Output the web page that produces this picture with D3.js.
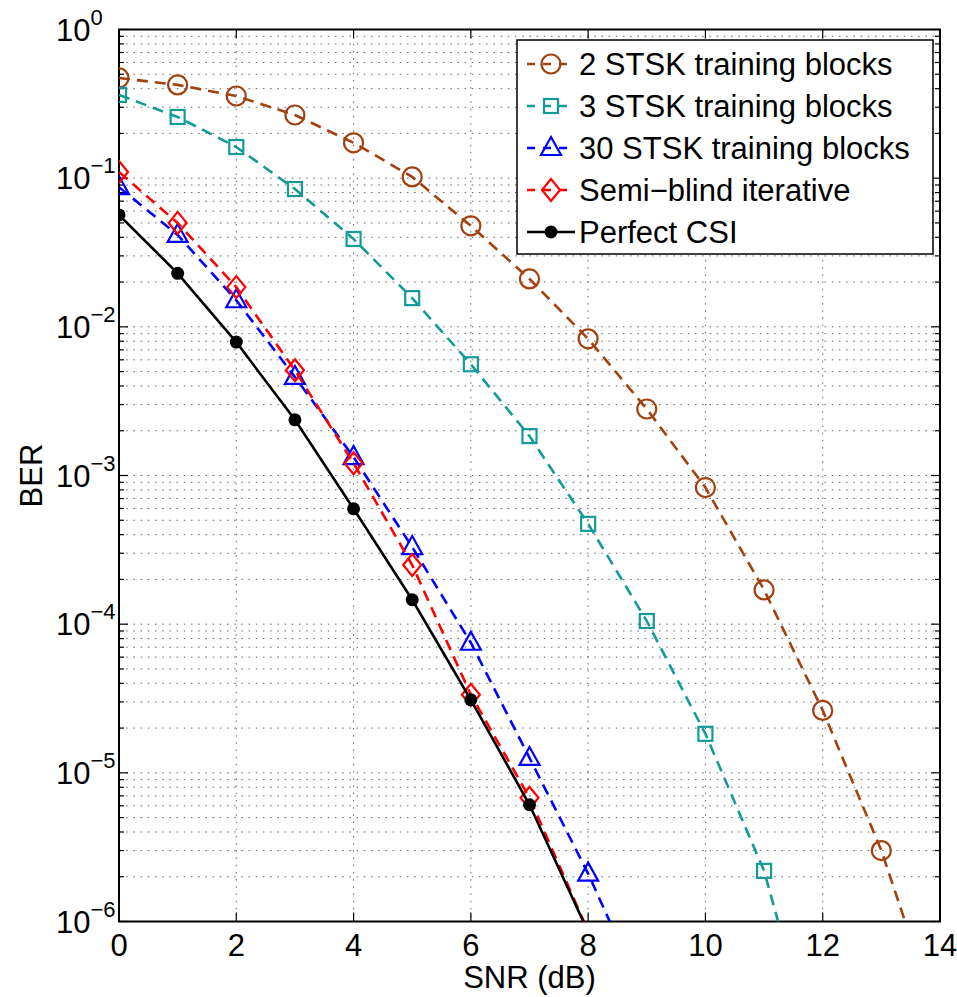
<!DOCTYPE html>
<html>
<head>
<meta charset="utf-8">
<script src="https://cdn.jsdelivr.net/npm/d3@7"></script>
<style>
  body { margin: 0; background: #fff; }
  text { font-family: "Liberation Sans", Arial, sans-serif; fill: #000; }
</style>
</head>
<body>
<div id="chart"></div>
<script>
// SNR values (dB)
const snr = [0, 1, 2, 3, 4, 5, 6, 7, 8, 9, 10, 11, 12, 13, 14];

// BER per curve (last points fall below the axis and get clipped)
const ber2Stsk = [0.472, 0.424, 0.357, 0.266, 0.173, 0.102, 0.0478, 0.021, 0.0083, 2.8e-3, 8.3e-4, 1.7e-4, 2.63e-5, 3.0e-6, 2.0e-7];
const ber3Stsk = [0.363, 0.258, 0.162, 0.0845, 0.039, 0.0156, 0.0056, 1.84e-3, 4.73e-4, 1.05e-4, 1.83e-5, 2.19e-6, 8.3e-8];
const ber30Stsk = [0.087, 0.0415, 0.0151, 0.0046, 1.33e-3, 3.3e-4, 7.5e-5, 1.26e-5, 2.1e-6, 2.8e-7];
const berSemiBlind = [0.110, 0.050, 0.0185, 0.0051, 1.21e-3, 2.5e-4, 3.35e-5, 6.8e-6, 8.6e-7];
const berPerfect = [0.0566, 0.0229, 0.0079, 0.00237, 5.97e-4, 1.46e-4, 3.1e-5, 6.1e-6, 8.5e-7];

const seriesNames = ["2 STSK training blocks", "3 STSK training blocks", "30 STSK training blocks", "Semi\u2212blind iterative", "Perfect CSI"];
const xTicks = [0, 2, 4, 6, 8, 10, 12, 14];
const yExponents = [0, -1, -2, -3, -4, -5, -6];

const W = 957, H = 997;
const margin = { top: 29.5, right: 17, bottom: 75.5, left: 119 };
const width = W - margin.left - margin.right;
const height = H - margin.top - margin.bottom;

const svg = d3.select("#chart").append("svg")
  .attr("width", W)
  .attr("height", H);

const x = d3.scaleLinear().domain([0, 14]).range([0, width]);
const y = d3.scaleLog().domain([1e-6, 1]).range([height, 0]);

const g = svg.append("g")
  .attr("transform", "translate(" + margin.left + "," + margin.top + ")");

g.append("defs").append("clipPath").attr("id", "clip")
  .append("rect").attr("width", width).attr("height", height);

// minor decade values for y grid
const yMinor = [];
for (let e = -6; e < 0; e++) {
  for (let m = 2; m <= 9; m++) yMinor.push(m * Math.pow(10, e));
}
const yMajor = yExponents.map(e => Math.pow(10, e));

// grid (dotted)
const grid = g.append("g").attr("stroke", "#666").attr("stroke-width", 1)
  .attr("stroke-dasharray", "1.5,5.7");
grid.selectAll(".gy").data(yMajor.concat(yMinor)).enter().append("line")
  .attr("x1", 0).attr("x2", width)
  .attr("y1", d => y(d)).attr("y2", d => y(d));
grid.selectAll(".gx").data(xTicks).enter().append("line")
  .attr("x1", d => x(d)).attr("x2", d => x(d))
  .attr("y1", 0).attr("y2", height);

// ticks on all four sides, pointing inward
const ticks = g.append("g").attr("stroke", "#000").attr("stroke-width", 1.2);
xTicks.forEach(d => {
  ticks.append("line").attr("x1", x(d)).attr("x2", x(d)).attr("y1", height).attr("y2", height - 9);
  ticks.append("line").attr("x1", x(d)).attr("x2", x(d)).attr("y1", 0).attr("y2", 9);
});
yMajor.forEach(d => {
  ticks.append("line").attr("x1", 0).attr("x2", 9).attr("y1", y(d)).attr("y2", y(d));
  ticks.append("line").attr("x1", width).attr("x2", width - 9).attr("y1", y(d)).attr("y2", y(d));
});
yMinor.forEach(d => {
  ticks.append("line").attr("x1", 0).attr("x2", 5).attr("y1", y(d)).attr("y2", y(d));
  ticks.append("line").attr("x1", width).attr("x2", width - 5).attr("y1", y(d)).attr("y2", y(d));
});

// axis box
g.append("rect").attr("width", width).attr("height", height)
  .attr("fill", "none").attr("stroke", "#000").attr("stroke-width", 2);

// x tick labels
g.selectAll(".xl").data(xTicks).enter().append("text")
  .attr("x", d => x(d)).attr("y", height + 34)
  .attr("text-anchor", "middle")
  .style("font-size", "31px")
  .text(d => d);

// y tick labels 10^e
yExponents.forEach(e => {
  const t = svg.append("text")
    .attr("x", 56).attr("y", margin.top + y(Math.pow(10, e)) + 11)
    .style("font-size", "31px");
  t.append("tspan").text("10");
  t.append("tspan").attr("dy", -16).style("font-size", "22px")
    .text(e === 0 ? "0" : "\u2212" + Math.abs(e));
});

// axis titles
svg.append("text").attr("x", margin.left + x(7)).attr("y", 988)
  .attr("text-anchor", "middle").style("font-size", "31px").text("SNR (dB)");
svg.append("text").attr("transform", "translate(42," + (margin.top + height / 2) + ") rotate(-90)")
  .attr("text-anchor", "middle").style("font-size", "31px").text("BER");

// series definitions
const series = [
  { name: seriesNames[0], values: ber2Stsk, color: "#a3410e", dash: "11,7", marker: "circle" },
  { name: seriesNames[1], values: ber3Stsk, color: "#139b98", dash: "11,7", marker: "square" },
  { name: seriesNames[2], values: ber30Stsk, color: "#0000ff", dash: "11,7", marker: "triangle" },
  { name: seriesNames[3], values: berSemiBlind, color: "#ff0000", dash: "11,7", marker: "diamond" },
  { name: seriesNames[4], values: berPerfect, color: "#000000", dash: null, marker: "dot" }
];

const line = d3.line().x(d => x(d[0])).y(d => y(d[1]));

function drawMarker(sel, type, color) {
  if (type === "circle") {
    sel.append("circle").attr("r", 9.5).attr("fill", "none").attr("stroke", color).attr("stroke-width", 2.2);
  } else if (type === "square") {
    sel.append("rect").attr("x", -7).attr("y", -7).attr("width", 14).attr("height", 14)
      .attr("fill", "none").attr("stroke", color).attr("stroke-width", 2.2);
  } else if (type === "triangle") {
    sel.append("path").attr("d", "M0,-11L10,7L-10,7Z")
      .attr("fill", "none").attr("stroke", color).attr("stroke-width", 2.2);
  } else if (type === "diamond") {
    sel.append("path").attr("d", "M0,-11L9,0L0,11L-9,0Z")
      .attr("fill", "none").attr("stroke", color).attr("stroke-width", 2.2);
  } else {
    sel.append("circle").attr("r", 6.5).attr("fill", color);
  }
}

const plot = g.append("g").attr("clip-path", "url(#clip)");

series.forEach(s => {
  const pts = s.values.map((v, i) => [snr[i], v]);
  plot.append("path").datum(pts)
    .attr("d", line)
    .attr("fill", "none")
    .attr("stroke", s.color)
    .attr("stroke-width", 2.6)
    .attr("stroke-dasharray", s.dash);
  pts.filter(p => p[1] >= 1e-6).forEach(p => {
    const m = plot.append("g").attr("transform", "translate(" + x(p[0]) + "," + y(p[1]) + ")");
    drawMarker(m, s.marker, s.color);
  });
});

// legend
const lg = svg.append("g");
lg.append("rect").attr("x", 517).attr("y", 40).attr("width", 416).attr("height", 214)
  .attr("fill", "#fff").attr("stroke", "#000").attr("stroke-width", 1.5);
series.forEach((s, i) => {
  const ly = 64 + i * 42;
  lg.append("line").attr("x1", 527).attr("x2", 575).attr("y1", ly).attr("y2", ly)
    .attr("stroke", s.color).attr("stroke-width", 2.6)
    .attr("stroke-dasharray", s.dash ? "8,8" : null);
  const m = lg.append("g").attr("transform", "translate(551," + ly + ")");
  drawMarker(m, s.marker, s.color);
  lg.append("text").attr("x", 579).attr("y", ly + 11)
    .style("font-size", "31px").text(s.name);
});
</script>
</body>
</html>
